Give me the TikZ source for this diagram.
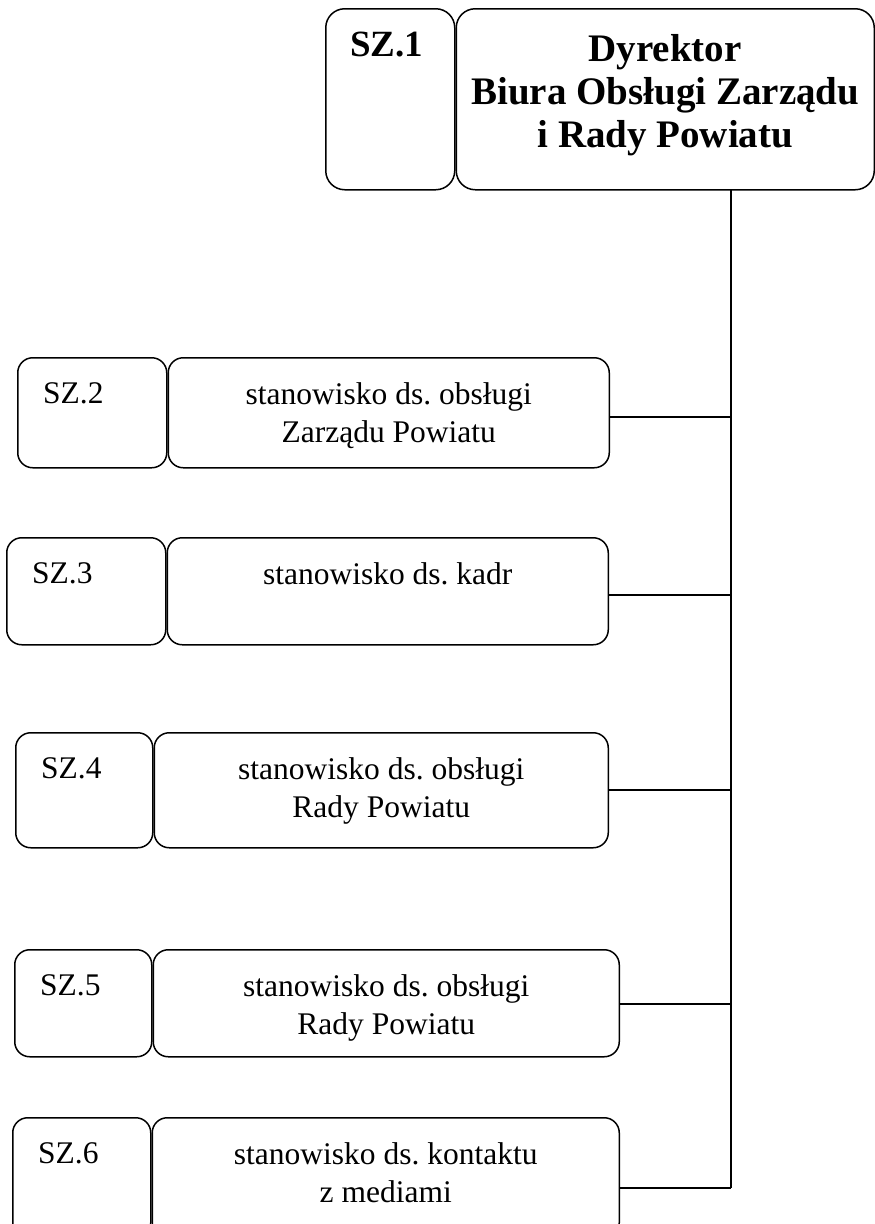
\documentclass[tikz,border=0pt]{standalone}
\usepackage{fontspec}
\setmainfont{Liberation Serif}
\usepackage{tikz}
\usetikzlibrary{positioning}
\frenchspacing

\begin{document}
\begin{tikzpicture}[x=1pt, y=-1pt,
    box/.style={draw, black, line width=1.5pt, rounded corners=15pt, inner sep=0pt},
    txt/.style={inner sep=0pt, align=center, font=\fontsize{31.5}{38}\selectfont},
    lbl/.style={inner sep=0pt, font=\fontsize{31.5}{38}\selectfont},
    head/.style={inner sep=0pt, align=center, font=\fontsize{39}{43}\selectfont\bfseries},
    wire/.style={black, line width=1.5pt}]
    \useasboundingbox (0,0) rectangle (875,1224);
    \clip (0,0) rectangle (875,1224);

    % 1. Dyrektor (SZ.1)
    \node[box, rounded corners=19pt, minimum width=129pt, minimum height=181pt, anchor=north west] (s1) at (325,8) {};
    \node[box, rounded corners=19pt, minimum width=418pt, minimum height=181pt, right=0pt of s1] (b1) {};
    \node[head, font=\fontsize{37}{40}\selectfont\bfseries, anchor=north west] (l1) at ([xshift=25pt, yshift=-24pt]s1.north west) {SZ.1};
    \node[head, anchor=north] (t1) at ([yshift=-26pt]b1.north) {Dyrektor\\Biura Obsługi Zarządu\\i Rady Powiatu};

    % 2. Stanowiska SZ.2 -- SZ.6
    \node[box, minimum width=149pt, minimum height=110pt, anchor=north west] (s2) at (17,357) {};
    \node[box, minimum width=441pt, minimum height=110pt, right=0pt of s2] (b2) {};
    \node[lbl, anchor=north west] (l2) at ([xshift=26pt, yshift=-25pt]s2.north west) {SZ.2};
    \node[txt, anchor=north] (t2) at ([yshift=-25pt]b2.north) {stanowisko ds. obsługi\\Zarządu Powiatu};

    \node[box, minimum width=159pt, minimum height=107pt, anchor=north west] (s3) at (6,537) {};
    \node[box, minimum width=441pt, minimum height=107pt, right=0pt of s3] (b3) {};
    \node[lbl, anchor=north west] (l3) at ([xshift=26pt, yshift=-25pt]s3.north west) {SZ.3};
    \node[txt, anchor=north] (t3) at ([yshift=-25pt]b3.north) {stanowisko ds. kadr};

    \node[box, minimum width=137pt, minimum height=115pt, anchor=north west] (s4) at (15,732) {};
    \node[box, minimum width=454pt, minimum height=115pt, right=0pt of s4] (b4) {};
    \node[lbl, anchor=north west] (l4) at ([xshift=26pt, yshift=-25pt]s4.north west) {SZ.4};
    \node[txt, anchor=north] (t4) at ([yshift=-25pt]b4.north) {stanowisko ds. obsługi\\Rady Powiatu};

    \node[box, minimum width=137pt, minimum height=107pt, anchor=north west] (s5) at (14,949) {};
    \node[box, minimum width=466pt, minimum height=107pt, right=0pt of s5] (b5) {};
    \node[lbl, anchor=north west] (l5) at ([xshift=26pt, yshift=-25pt]s5.north west) {SZ.5};
    \node[txt, anchor=north] (t5) at ([yshift=-25pt]b5.north) {stanowisko ds. obsługi\\Rady Powiatu};

    \node[box, minimum width=138pt, minimum height=120pt, anchor=north west] (s6) at (12,1117) {};
    \node[box, minimum width=467pt, minimum height=120pt, right=0pt of s6] (b6) {};
    \node[lbl, anchor=north west] (l6) at ([xshift=26pt, yshift=-25pt]s6.north west) {SZ.6};
    \node[txt, anchor=north] (t6) at ([yshift=-25pt]b6.north) {stanowisko ds. kontaktu\\z mediami};

    % 3. Linia pionowa i połączenia
    \coordinate (top) at (731,189);
    \coordinate (j2) at (731,417);
    \coordinate (j3) at (731,595);
    \coordinate (j4) at (731,790);
    \coordinate (j5) at (731,1004);
    \coordinate (j6) at (731,1188);
    \draw[wire] (top) -- (j6);
    \draw[wire] (j2 -| b2.east) -- (j2);
    \draw[wire] (j3 -| b3.east) -- (j3);
    \draw[wire] (j4 -| b4.east) -- (j4);
    \draw[wire] (j5 -| b5.east) -- (j5);
    \draw[wire] (j6 -| b6.east) -- (j6);

\end{tikzpicture}
\end{document}
